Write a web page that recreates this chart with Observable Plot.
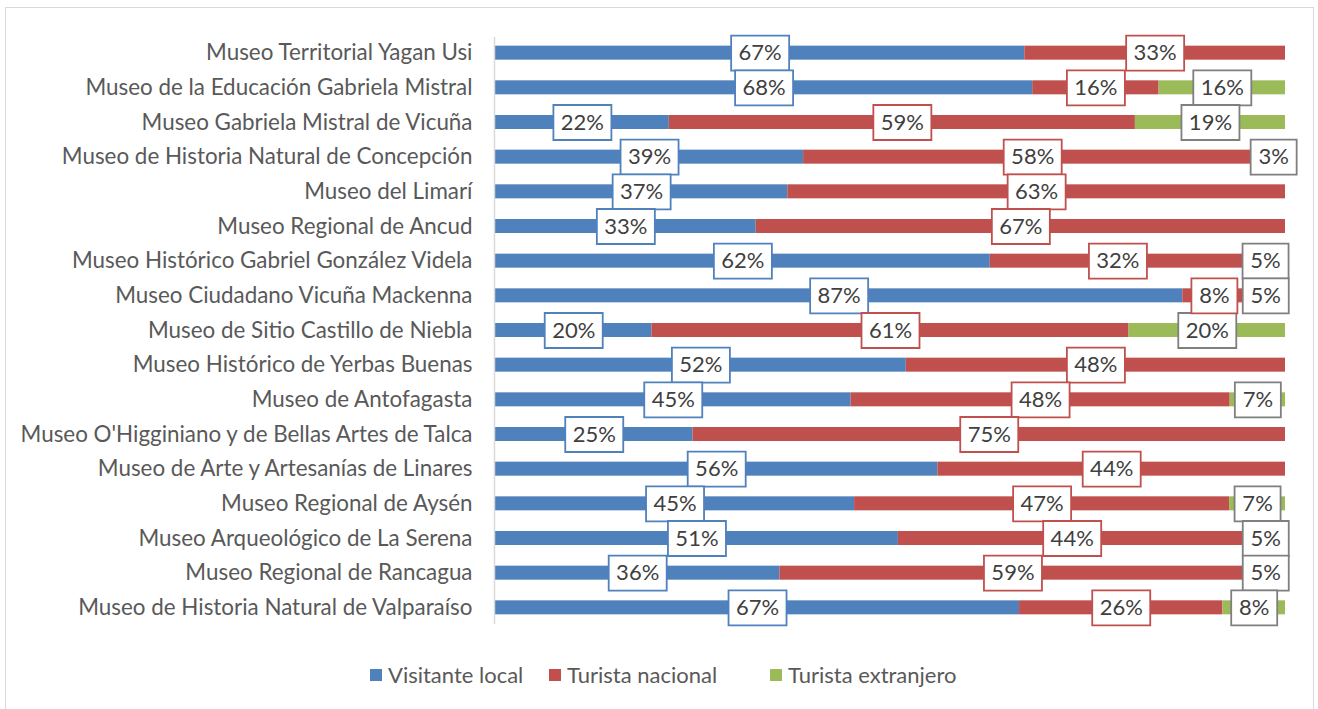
<!DOCTYPE html>
<html><head><meta charset="utf-8">
<script src="https://cdn.jsdelivr.net/npm/d3@7"></script>
<script src="https://cdn.jsdelivr.net/npm/@observablehq/plot@0.6"></script>
<style>
html,body{margin:0;padding:0;background:#fff;}
body{font-family:Lato,sans-serif;}
#frame{position:absolute;left:5px;top:7px;width:1307px;height:720px;border:1px solid #d9d9d9;box-sizing:content-box;}
#legend{display:flex;justify-content:flex-start;align-items:center;padding-left:364px;margin-top:20px;font-family:Lato,sans-serif;font-size:22px;color:#595959;line-height:24px;}
#legend .item{display:flex;align-items:center;}
#legend .sw{width:12px;height:12px;margin-right:6px;flex:none;}
</style></head>
<body>
<div id="frame"><div id="chart"></div><div id="legend"></div></div>
<script>
const museums = [
  "Museo Territorial Yagan Usi",
  "Museo de la Educación Gabriela Mistral",
  "Museo Gabriela Mistral de Vicuña",
  "Museo de Historia Natural de Concepción",
  "Museo del Limarí",
  "Museo Regional de Ancud",
  "Museo Histórico Gabriel González Videla",
  "Museo Ciudadano Vicuña Mackenna",
  "Museo de Sitio Castillo de Niebla",
  "Museo Histórico de Yerbas Buenas",
  "Museo de Antofagasta",
  "Museo O'Higginiano y de Bellas Artes de Talca",
  "Museo de Arte y Artesanías de Linares",
  "Museo Regional de Aysén",
  "Museo Arqueológico de La Serena",
  "Museo Regional de Rancagua",
  "Museo de Historia Natural de Valparaíso"
];
const seriesNames = ["Visitante local", "Turista nacional", "Turista extranjero"];
const visitanteLocal   = [67, 68, 22, 39, 37, 33, 62, 87, 20, 52, 45, 25, 56, 45, 51, 36, 67];
const turistaNacional  = [33, 16, 59, 58, 63, 67, 32,  8, 61, 48, 48, 75, 44, 47, 44, 59, 26];
const turistaExtranjero= [ 0, 16, 19,  3,  0,  0,  5,  5, 20,  0,  7,  0,  0,  7,  5,  5,  8];
const seriesColors = ["#4f81bd", "#c0504d", "#9bbb59"];
const boxBorders   = ["#4f81bd", "#c0504d", "#7f7f7f"];
const legendWidths = [179, 221, 200];

const seriesValues = [visitanteLocal, turistaNacional, turistaExtranjero];
const rows = [];
museums.forEach((m, i) => {
  seriesNames.forEach((s, k) => {
    const v = seriesValues[k][i];
    if (v > 0) rows.push({museum: m, type: s, k, value: v});
  });
});

const boxSymbol = {
  draw(context, size) {
    const wide = size > 2 * Math.PI;
    const w = wide ? 58 : 46, h = 35;
    context.moveTo(-w / 2, -h / 2);
    context.lineTo(w / 2, -h / 2);
    context.lineTo(w / 2, h / 2);
    context.lineTo(-w / 2, h / 2);
    context.closePath();
  }
};

const stackOpts = (extra) => Plot.stackX({
  x: "value", y: "museum", z: "type", offset: "normalize", ...extra
});

const chart = Plot.plot({
  width: 1307,
  height: 635,
  marginLeft: 489,
  marginRight: 28,
  marginTop: 17,
  marginBottom: 8,
  style: {fontFamily: "Lato, sans-serif", background: "transparent"},
  x: {axis: null},
  y: {domain: museums, padding: 0.596, round: false, label: null},
  r: {type: "identity"},
  marks: [
    Plot.barX(rows, stackOpts({fill: d => seriesColors[d.k]})),
    Plot.ruleX([0], {stroke: "#d9d9d9", strokeWidth: 1.5, dx: -1, insetTop: 12, insetBottom: 11}),
    Plot.dot(rows, stackOpts({
      symbol: boxSymbol,
      r: d => String(d.value).length,
      fill: "white",
      stroke: d => boxBorders[d.k],
      strokeWidth: 1.8
    })),
    Plot.text(rows, stackOpts({
      text: d => d.value + "%",
      fontSize: 22,
      fill: "#404040"
    })),
    Plot.axisY({tickSize: 0, tickPadding: 23, fontSize: 22.4, fill: "#595959", label: null})
  ]
});
document.getElementById("chart").appendChild(chart);

const legend = document.getElementById("legend");
seriesNames.forEach((s, k) => {
  const item = document.createElement("div");
  item.className = "item";
  item.style.width = legendWidths[k] + "px";
  const sw = document.createElement("div");
  sw.className = "sw";
  sw.style.background = seriesColors[k];
  const t = document.createElement("span");
  t.textContent = s;
  item.appendChild(sw);
  item.appendChild(t);
  legend.appendChild(item);
});
</script>
</body></html>
